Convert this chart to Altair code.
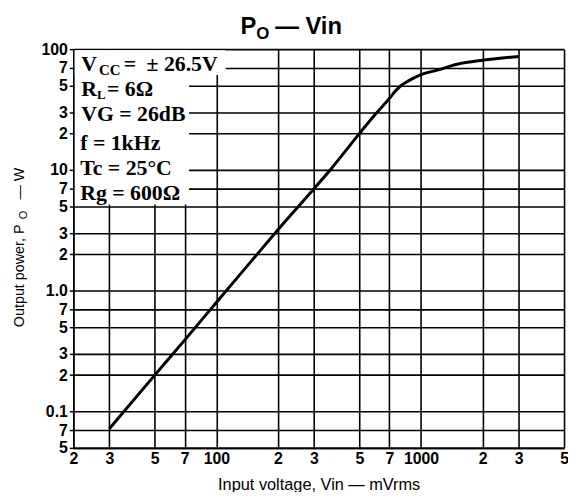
import altair as alt
import pandas as pd

# ---- data ----
vin_mv = [30, 50, 70, 100, 150, 200, 300, 360, 500, 600, 700, 750, 800, 850, 900,
          1000, 1200, 1500, 2000, 2500, 3000]
po_w = [0.072, 0.2, 0.39, 0.8, 1.8, 3.2, 7.0, 10, 20, 29, 39, 45, 50, 53.5, 56.5,
        61.5, 67, 75, 81, 84.5, 87]

x_ticks = [20, 30, 50, 70, 100, 200, 300, 500, 700, 1000, 2000, 3000, 5000]
x_tick_labels = ["2", "3", "5", "7", "100", "2", "3", "5", "7", "1000", "2", "3", "5"]
y_ticks = [0.05, 0.07, 0.1, 0.2, 0.3, 0.5, 0.7, 1, 2, 3, 5, 7, 10, 20, 30, 50, 70, 100]
y_tick_labels = ["5", "7", "0.1", "2", "3", "5", "7", "1.0", "2", "3", "5", "7",
                 "10", "2", "3", "5", "7", "100"]

title_parts = ["P", "O", "— Vin"]
ytitle_parts = ["Output power, P", "O", "— W"]
x_title = "Input voltage, Vin — mVrms"
cond_parts = ["V", "CC", "=", "± 26.5V", "R", "L", "= 6Ω",
              "VG = 26dB", "f = 1kHz", "Tc = 25°C", "Rg = 600Ω"]

W, H = 496, 403


def label_expr(vals, labels):
    expr = "''"
    for v, l in reversed(list(zip(vals, labels))):
        expr = f"abs(datum.value - {v}) < {v * 1e-6} ? '{l}' : ({expr})"
    return expr


curve_df = pd.DataFrame({"vin": vin_mv, "po": po_w})

x_enc = alt.X(
    "vin:Q",
    scale=alt.Scale(type="log", domain=[20, 5000], nice=False),
    axis=alt.Axis(
        values=x_ticks, labelExpr=label_expr(x_ticks, x_tick_labels),
        ticks=False, labelPadding=3, labelFlush=False, labelOverlap=False,
        labelBound=False, title=x_title, titleFont="Liberation Sans",
        titleFontWeight="normal", titleFontSize=16.5, titleColor="black",
        titlePadding=10,
    ),
)
y_enc = alt.Y(
    "po:Q",
    scale=alt.Scale(type="log", domain=[0.05, 100], nice=False),
    axis=alt.Axis(
        values=y_ticks, labelExpr=label_expr(y_ticks, y_tick_labels),
        tickSize=4, tickWidth=1.5, labelPadding=2, labelFlush=False,
        labelOverlap=False, labelBound=False, title=None,
    ),
)

curve = alt.Chart(curve_df).mark_line(
    color="black", strokeWidth=3, interpolate="monotone"
).encode(x=x_enc, y=y_enc)


def one(text):
    return pd.DataFrame({"t": [text]})


def mask(x1, x2, y1, y2):
    return alt.Chart(one("")).mark_rect(color="white").encode(
        x=alt.value(x1), x2=alt.value(x2), y=alt.value(y1), y2=alt.value(y2)
    )


def txt(text, x, y, size, font="Liberation Serif", weight="bold", **kw):
    return alt.Chart(one(text)).mark_text(
        align="left", baseline="alphabetic", font=font, fontSize=size,
        fontWeight=weight, color="black", **kw
    ).encode(x=alt.value(x), y=alt.value(y), text="t:N")


masks = [mask(1.5, 117, 1, 157), mask(1.5, 154, 1, 26)]

cond_layout = [
    (8, 22, 22), (26, 26, 15), (51, 22, 22), (74, 22, 22),
    (8, 47, 22), (24, 50, 13), (34, 47, 22),
    (8, 73, 22), (7, 102, 22), (7, 127, 22), (7, 152, 22),
]
cond_marks = [txt(t, x, y, s) for t, (x, y, s) in zip(cond_parts, cond_layout)]

title_layout = [(169, -15, 24), (185, -10, 17), (204, -15, 24)]
title_marks = [txt(t, x, y, s, font="Liberation Sans")
               for t, (x, y, s) in zip(title_parts, title_layout)]

ytitle_layout = [(0, 0, 14.5), (109, 4, 11), (129, 0, 14.5)]
ytitle_marks = [
    alt.Chart(one(t)).mark_text(
        align="left", baseline="middle", angle=270, dx=dx, dy=dy,
        font="Liberation Sans", fontSize=s, fontWeight="normal", color="black"
    ).encode(x=alt.value(-54), y=alt.value(281), text="t:N")
    for t, (dx, dy, s) in zip(ytitle_parts, ytitle_layout)
]

chart = alt.layer(
    curve, *masks, *cond_marks, *title_marks, *ytitle_marks
).properties(
    width=W, height=H,
    padding={"left": 66, "top": 39, "right": 4, "bottom": 42},
    autosize=alt.AutoSizeParams(type="none"),
).configure_axis(
    domainColor="black", domainWidth=1.6, gridColor="black", gridWidth=1.6,
    gridOpacity=1, labelColor="black", labelFont="Liberation Sans",
    labelFontWeight="bold", labelFontSize=16, tickColor="black",
).configure_view(stroke="transparent")

chart.save("out.html", embed_options={"renderer": "svg", "actions": False})
